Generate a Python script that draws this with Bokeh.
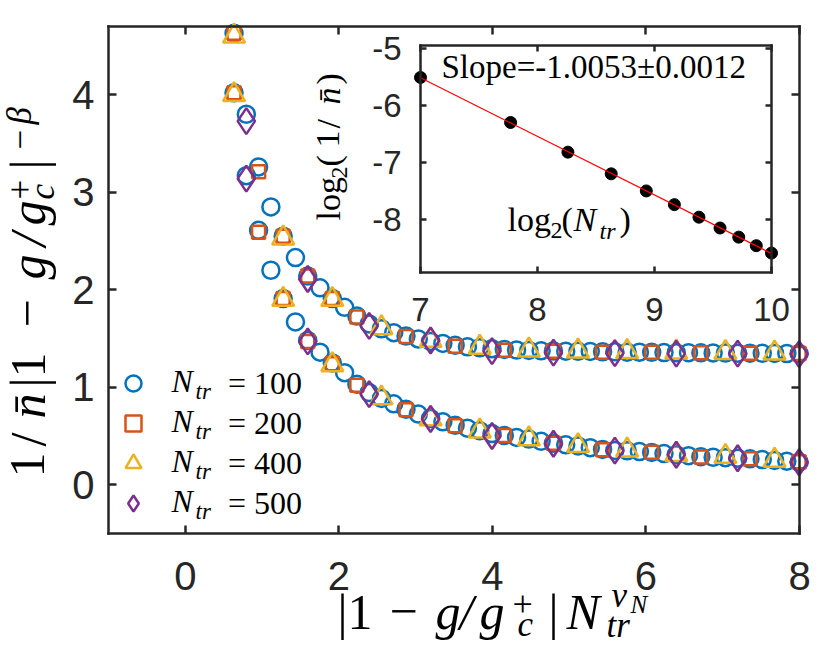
import numpy as np
from bokeh.plotting import figure
from bokeh.models import Range1d, LinearAxis, FixedTicker, Label, Legend, LegendItem
from bokeh.embed import file_html
from bokeh.resources import INLINE
from bokeh.core.properties import value

# ---------------- data ----------------
X_TICKS = [0, 2, 4, 6, 8]
Y_TICKS = [0, 1, 2, 3, 4]
INSET_X_TICKS = [7, 8, 9, 10]
INSET_Y_TICKS = [-8, -7, -6, -5]

# N_tr = 100 (blue circles)
X_100 = [0.635, 0.795, 0.955, 1.115, 1.275, 1.435, 1.595, 1.755, 1.915, 2.075, 2.235, 2.395,
         2.555, 2.715, 2.875, 3.035, 3.195, 3.355, 3.515, 3.675, 3.835, 3.995, 4.155, 4.315,
         4.475, 4.635, 4.795, 4.955, 5.115, 5.275, 5.435, 5.595, 5.755, 5.915, 6.075, 6.235,
         6.395, 6.555, 6.715, 6.875, 7.035, 7.195, 7.355, 7.515, 7.675, 7.835, 7.995]
UP_100 = [4.63, 3.80, 3.26, 2.85, 2.55, 2.33, 2.14, 2.02, 1.91, 1.82, 1.73, 1.65,
          1.60, 1.56, 1.525, 1.495, 1.47, 1.45, 1.43, 1.415, 1.405, 1.395, 1.388, 1.382,
          1.378, 1.374, 1.372, 1.37, 1.368, 1.367, 1.364, 1.363, 1.36, 1.359, 1.358, 1.356,
          1.355, 1.355, 1.353, 1.352, 1.351, 1.35, 1.349, 1.348, 1.347, 1.346, 1.345]
LO_100 = [4.02, 3.17, 2.61, 2.20, 1.91, 1.67, 1.48, 1.36, 1.25, 1.15, 1.03, 0.945,
          0.885, 0.83, 0.775, 0.725, 0.68, 0.645, 0.61, 0.58, 0.555, 0.525, 0.505, 0.485,
          0.468, 0.445, 0.425, 0.41, 0.398, 0.38, 0.362, 0.352, 0.348, 0.34, 0.332, 0.32,
          0.308, 0.298, 0.288, 0.282, 0.278, 0.272, 0.266, 0.258, 0.25, 0.242, 0.232]

# N_tr = 200 (orange squares)
X_200 = [0.635, 0.955, 1.275, 1.595, 1.915, 2.235, 2.875, 3.515, 4.155, 4.795, 5.435,
         6.075, 6.715, 7.355, 7.995]
UP_200 = [4.63, 3.21, 2.55, 2.14, 1.91, 1.72, 1.52, 1.42, 1.38, 1.37, 1.36, 1.36, 1.355,
          1.35, 1.345]
LO_200 = [4.02, 2.59, 1.91, 1.47, 1.24, 1.02, 0.77, 0.605, 0.505, 0.425, 0.358, 0.333,
          0.285, 0.266, 0.235]

# N_tr = 400 (yellow triangles)
X_400 = [0.635, 1.275, 1.915, 2.555, 3.195, 3.835, 4.475, 5.115, 5.755, 6.395, 7.035, 7.675]
UP_400 = [4.60, 2.53, 1.90, 1.61, 1.48, 1.41, 1.38, 1.37, 1.365, 1.36, 1.355, 1.35]
LO_400 = [4.00, 1.90, 1.23, 0.89, 0.675, 0.55, 0.47, 0.40, 0.355, 0.31, 0.29, 0.25]

# N_tr = 500 (purple diamonds)
X_500 = [0.795, 1.595, 2.395, 3.195, 3.995, 4.795, 5.595, 6.395, 7.195, 7.995]
UP_500 = [3.73, 2.11, 1.63, 1.48, 1.37, 1.355, 1.35, 1.345, 1.345, 1.34]
LO_500 = [3.14, 1.47, 0.93, 0.675, 0.50, 0.42, 0.35, 0.307, 0.272, 0.231]

# inset
LOG2_NTR = [7.0, 7.77, 8.26, 8.63, 8.93, 9.17, 9.38, 9.56, 9.72, 9.87, 10.0]
LOG2_INV_NBAR = [-5.51, -6.30, -6.82, -7.20, -7.50, -7.74, -7.96, -8.15, -8.31, -8.46, -8.59]

LEGEND_LABELS = ["100", "200", "400", "500"]

# ---------------- layout (page pixels; the page has no margin) ----------------
W, H = 828, 652
FR_L, FR_R, FR_T, FR_B = 108, 799, 26, 533        # main axes box
IN_L, IN_R, IN_T, IN_B = 420, 771, 45, 272        # inset box
X0, X1, Y0, Y1 = -1.0, 8.0, -0.5, 4.7             # main limits
IX0, IX1, IY0, IY1 = 7.0, 10.0, -8.93, -4.95      # inset limits

INK = "#262626"
C_BLUE, C_ORANGE, C_YELLOW, C_PURPLE = "#0072BD", "#D95319", "#EDB120", "#7E2F8E"
SANS = "Liberation Sans"
SERIF = "Liberation Serif"


def base_shift(size):
    # Bokeh draws an 'alphabetic' label this far below its anchor
    return 0.36 * size + 4


def xr(d0, d1, p0, p1):
    k = (d1 - d0) / (p1 - p0)
    return Range1d(d0 - p0 * k, d1 + (W - p1) * k)


def yr(d0, d1, ptop, pbot):
    k = (d1 - d0) / (pbot - ptop)
    return Range1d(d0 - (H - pbot) * k, d1 + ptop * k)


p = figure(width=W, height=H, min_border=0, x_axis_location=None, y_axis_location=None,
           x_range=xr(X0, X1, FR_L, FR_R), y_range=yr(Y0, Y1, FR_T, FR_B),
           output_backend="svg", toolbar_location=None)
p.grid.visible = False
p.outline_line_color = None
p.background_fill_color = "white"
p.border_fill_color = "white"
p.extra_x_ranges = {"ix": xr(IX0, IX1, IN_L, IN_R)}
p.extra_y_ranges = {"iy": yr(IY0, IY1, IN_T, IN_B)}


def make_axis(side, ticks, loc, bounds, size, show_labels=True, tick_in=8, standoff=12,
              inset=False):
    kw = dict(x_range_name="ix", y_range_name="iy") if inset else {}
    ax = LinearAxis(fixed_location=loc, bounds=bounds, **kw)
    ax.ticker = FixedTicker(ticks=ticks)
    ax.axis_line_color = INK
    ax.axis_line_width = 2.5
    ax.axis_line_cap = "square"
    ax.major_tick_line_color = INK
    ax.major_tick_line_width = 2.5
    ax.major_tick_in = tick_in
    ax.major_tick_out = 0
    ax.minor_tick_line_color = None
    ax.major_label_text_font = SANS
    ax.major_label_text_font_size = f"{size}px"
    ax.major_label_text_color = INK
    ax.major_label_standoff = standoff
    ax.major_label_overrides = {t: str(t) for t in ticks}
    if not show_labels:
        ax.major_label_text_alpha = 0.0
    p.add_layout(ax, side)
    return ax


# main box axes
make_axis("below", X_TICKS, Y0, (X0, X1), 40, standoff=28)
make_axis("left", Y_TICKS, X0, (Y0, Y1), 40, standoff=14)
make_axis("above", X_TICKS, Y1, (X0, X1), 40, show_labels=False)
make_axis("right", Y_TICKS, X1, (Y0, Y1), 40, show_labels=False)

# ---------------- main data ----------------
common = dict(fill_color=None, line_width=2.5)
r100u = p.scatter(X_100, UP_100, marker="circle", size=17, line_color=C_BLUE, **common)
p.scatter(X_100, LO_100, marker="circle", size=17, line_color=C_BLUE, **common)
r200u = p.scatter(X_200, UP_200, marker="square", size=13, line_color=C_ORANGE, **common)
p.scatter(X_200, LO_200, marker="square", size=13, line_color=C_ORANGE, **common)
r400u = p.scatter(X_400, UP_400, marker="triangle", size=22, line_color=C_YELLOW, **common)
p.scatter(X_400, LO_400, marker="triangle", size=22, line_color=C_YELLOW, **common)
r500u = p.scatter(X_500, UP_500, marker="diamond", size=26, line_color=C_PURPLE, **common)
p.scatter(X_500, LO_500, marker="diamond", size=26, line_color=C_PURPLE, **common)

# ---------------- inset ----------------
make_axis("below", INSET_X_TICKS, IY0, (IX0, IX1), 33, tick_in=6, standoff=25, inset=True)
make_axis("left", INSET_Y_TICKS, IX0, (IY0, IY1), 33, tick_in=6, standoff=19, inset=True)
make_axis("above", INSET_X_TICKS, IY1, (IX0, IX1), 33, show_labels=False, tick_in=6, inset=True)
make_axis("right", INSET_Y_TICKS, IX1, (IY0, IY1), 33, show_labels=False, tick_in=6, inset=True)

p.scatter(LOG2_NTR, LOG2_INV_NBAR, x_range_name="ix", y_range_name="iy",
          marker="circle", size=12, fill_color="black", line_color="black")
slope, icpt = np.polyfit(LOG2_NTR, LOG2_INV_NBAR, 1)
fx = [LOG2_NTR[0], LOG2_NTR[-1]]
p.line(fx, [icpt + slope * v for v in fx], x_range_name="ix", y_range_name="iy",
       line_color="red", line_width=1.2)

# ---------------- legend ----------------
legend = Legend(items=[LegendItem(label=value("= " + LEGEND_LABELS[i]), renderers=[r])
                       for i, r in enumerate([r100u, r200u, r400u, r500u])],
                location=(113, H - 523), orientation="vertical", glyph_width=40,
                glyph_height=40, spacing=0, padding=0, margin=0, label_standoff=75,
                label_height=40, border_line_color=None, background_fill_alpha=0.0,
                label_text_font=SERIF, label_text_font_size="32px", label_text_color="black")
p.add_layout(legend)


# ---------------- text pieces (page pixels; (px, py) = start of the text on its baseline) ----
def put(text, px, py, size, italic=False, rotated=False, font=SERIF):
    d = base_shift(size)
    if rotated:
        x, y, angle = px - d, py, np.pi / 2
    else:
        x, y, angle = px, py - d, 0.0
    p.add_layout(Label(x=x, y=H - y, x_units="screen", y_units="screen",
                       text=text, text_font=font, text_font_size=f"{size}px",
                       text_font_style="italic" if italic else "normal",
                       angle=angle, text_align="left", text_baseline="alphabetic",
                       text_color="black"))


# legend "N_tr"
for i in range(4):
    yc = 383 + 40 * i
    put("N", 171, yc + 13, 32, italic=True)
    put("tr", 195, yc + 20, 23, italic=True)

# x-axis label: |1 - g/g_c^+| N_tr^{nu_N}
put("|1", 337, 633, 50)
put("\u2212", 389, 633, 50)
put("g", 435, 633, 50, italic=True)
put("/", 459, 633, 50, italic=True)
put("g", 479, 633, 50, italic=True)
put("+", 512, 620, 36)
put("c", 517, 641, 35, italic=True)
put("|", 548, 633, 50)
put("N", 566, 633, 50, italic=True)
put("tr", 606, 642, 35, italic=True)
put("\u03bd", 611, 612, 35, italic=True)
put("N", 630, 617, 25, italic=True)

# y-axis label: 1/n̄ |1 - g/g_c^+|^{-beta}  (rotated, reading upwards)
put("1", 49, 477, 50, rotated=True)
put("/", 49, 446, 50, rotated=True)
put("n\u0304", 49, 418, 50, italic=True, rotated=True)
put("|1", 49, 387, 50, rotated=True)
put("\u2212", 49, 327, 50, rotated=True)
put("g", 49, 279, 50, italic=True, rotated=True)
put("/", 49, 246, 50, italic=True, rotated=True)
put("g", 49, 225, 50, italic=True, rotated=True)
put("+", 36, 199, 35, rotated=True)
put("c", 59, 199, 35, italic=True, rotated=True)
put("|", 49, 169, 50, rotated=True)
put("\u2212", 36, 149, 35, rotated=True)
put("\u03b2", 36, 124, 35, italic=True, rotated=True)

# inset texts
put("Slope=-1.0053\u00b10.0012", 441, 82, 33)
put("log", 507, 235, 34)
put("2", 550, 243, 24)
put("(", 561, 235, 34)
put("N", 573, 235, 34, italic=True)
put("tr", 599, 243, 24, italic=True)
put(")", 619, 235, 34)

put("log", 344, 220, 34, rotated=True)
put("2", 352, 178, 24, rotated=True)
put("(", 344, 166, 34, rotated=True)
put("1", 344, 147, 34, rotated=True)
put("/", 344, 128, 34, rotated=True)
put("n\u0304", 344, 104, 34, italic=True, rotated=True)
put(")", 344, 84, 34, rotated=True)

open("out.html", "w").write(file_html(p, INLINE))
